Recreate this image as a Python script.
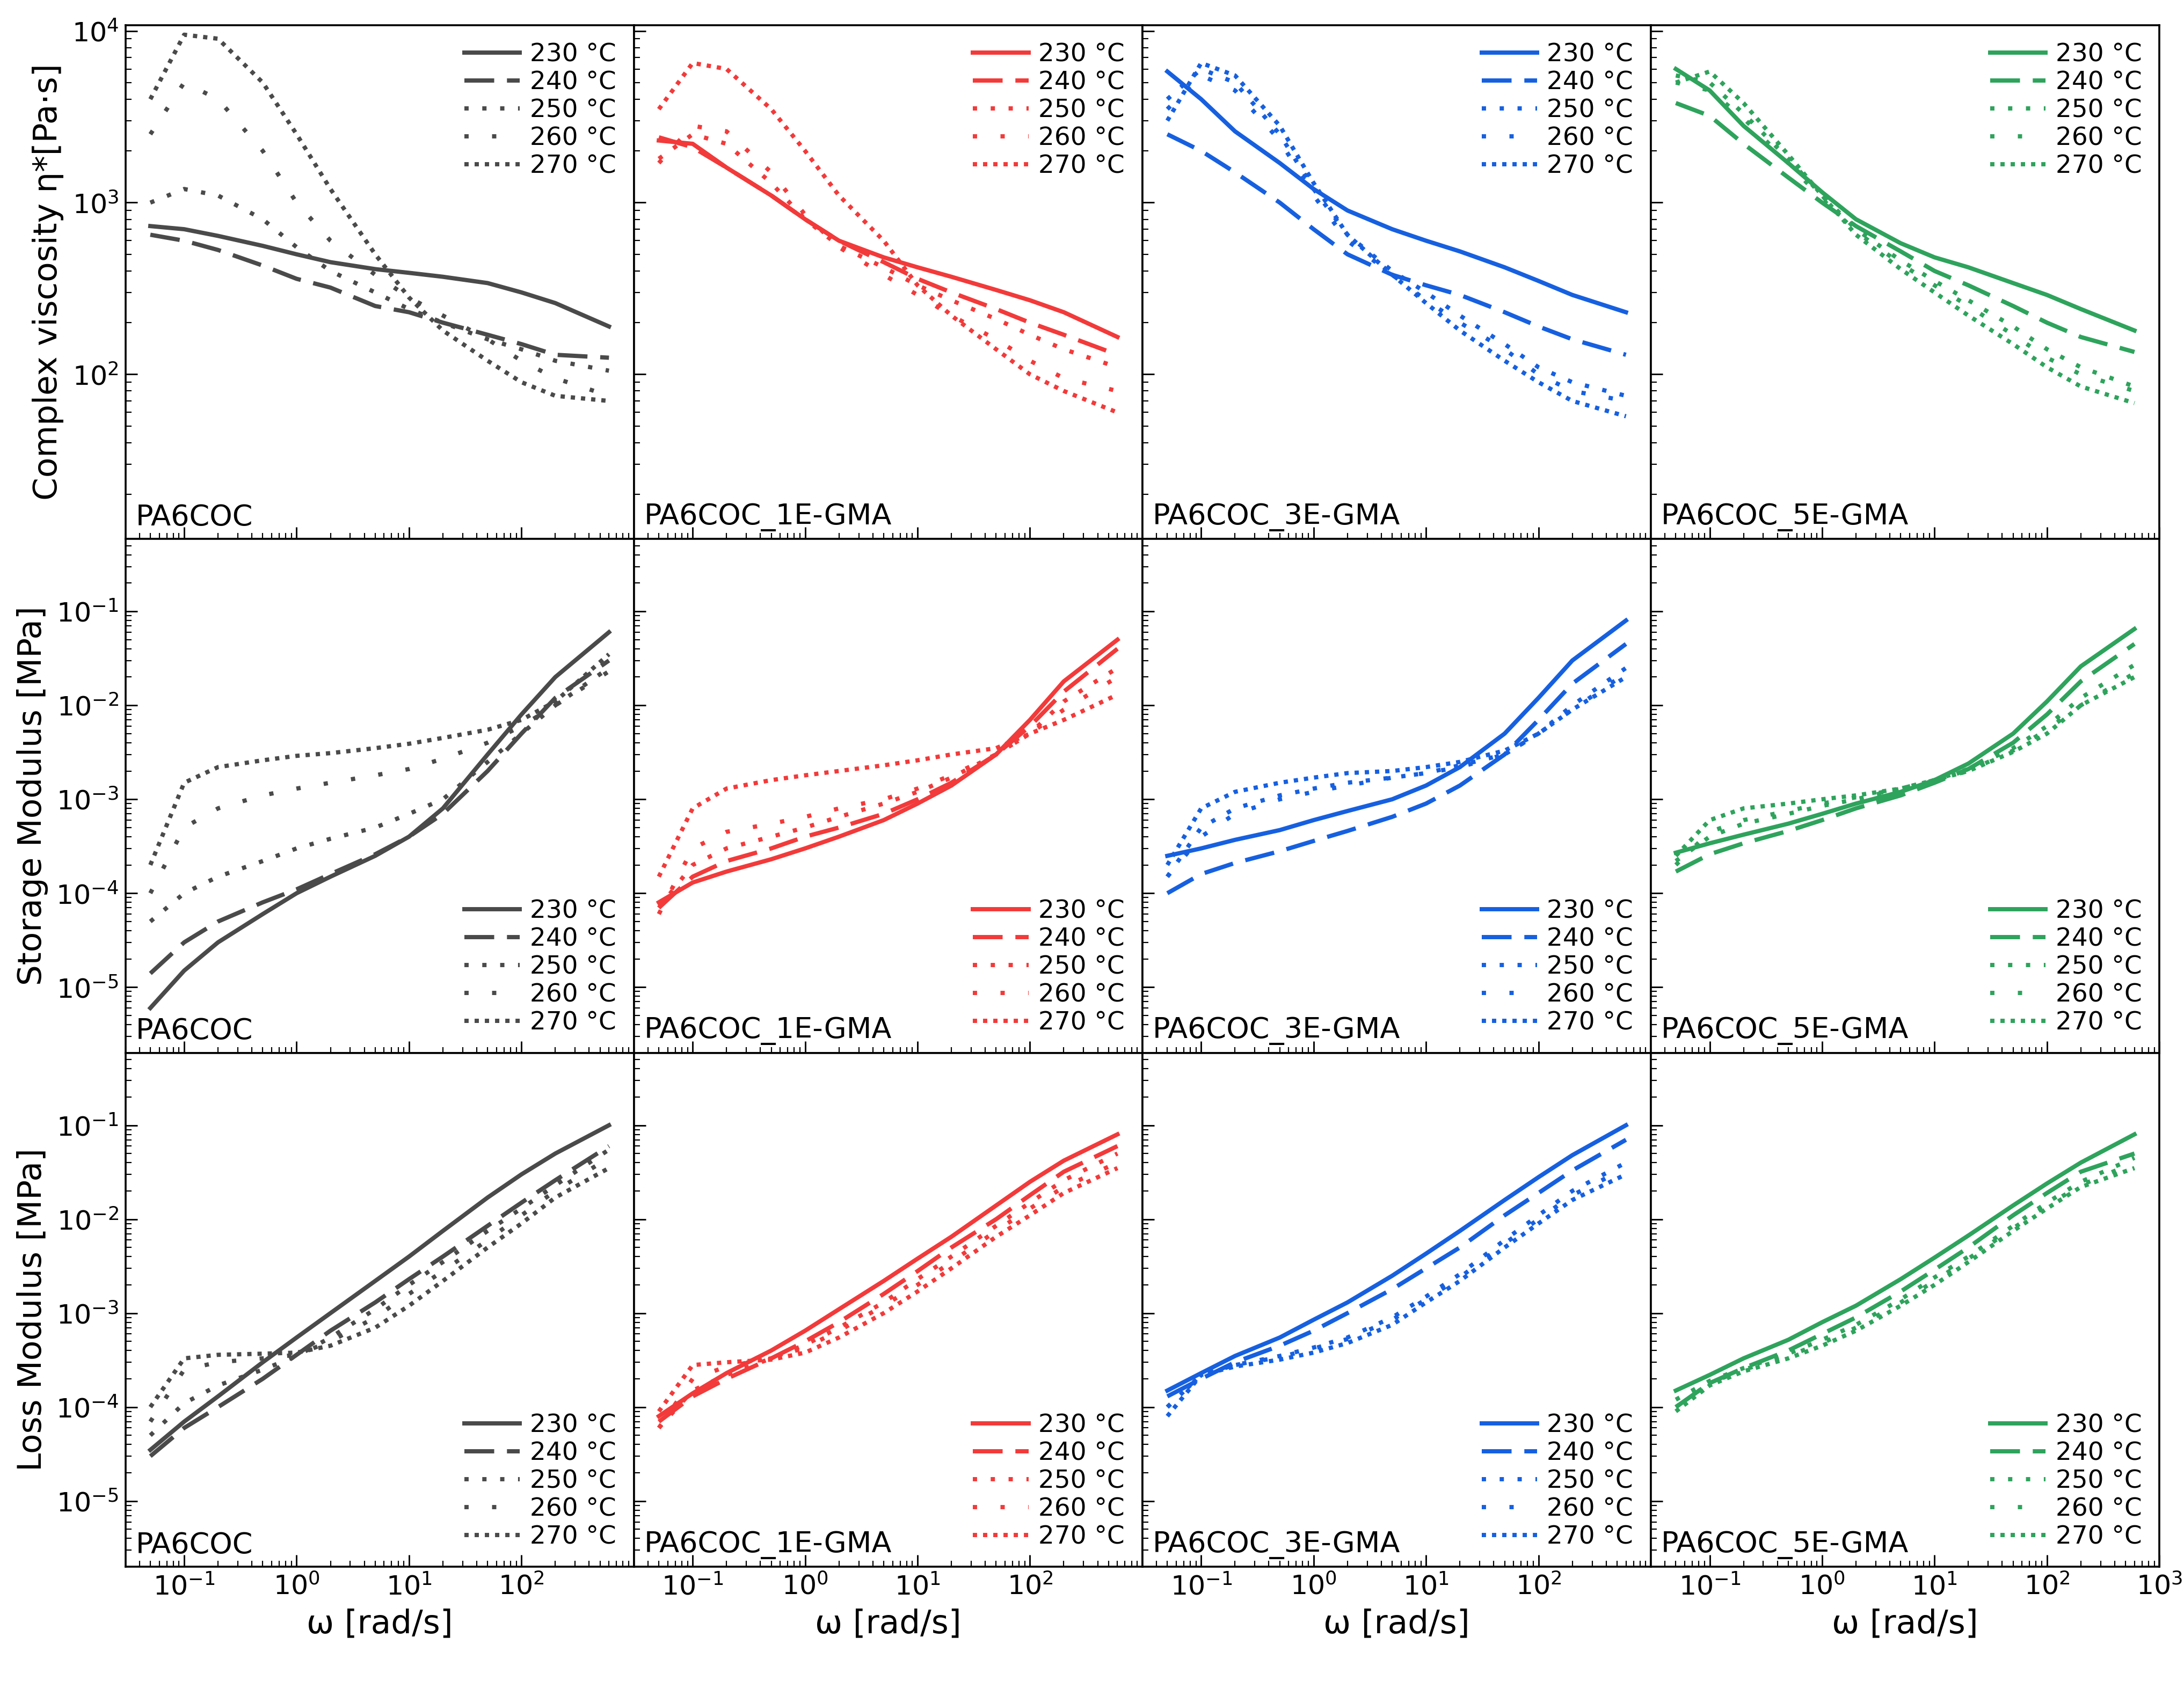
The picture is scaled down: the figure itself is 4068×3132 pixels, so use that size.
import numpy as np, pandas as pd, seaborn as sns, matplotlib
matplotlib.use("Agg")
import matplotlib.pyplot as plt
from matplotlib.ticker import LogLocator, NullFormatter

omega = [0.05,0.1,0.2,0.5,1,2,5,10,20,50,100,200,600]
temps = ["230 °C","240 °C","250 °C","260 °C","270 °C"]
samples = ["PA6COC","PA6COC_1E-GMA","PA6COC_3E-GMA","PA6COC_5E-GMA"]
colors = ["#4a4a4a","#f23a3a","#1660e0","#2ea35c"]

visc_PA6COC = [
 [730,700,640,560,500,450,410,390,370,340,300,260,190],
 [650,600,530,430,360,320,250,230,200,170,150,130,125],
 [1000,1200,1100,800,550,400,300,240,200,160,140,120,105],
 [2500,5000,4000,2000,1000,600,380,280,220,160,120,95,75],
 [4000,9500,9000,5000,2500,1200,500,280,180,120,90,75,70]]
visc_1E = [
 [2300,2200,1600,1100,800,600,480,420,370,310,270,230,165],
 [2400,2100,1600,1100,800,600,450,360,300,240,200,170,130],
 [1800,2500,2200,1300,800,560,420,330,270,210,170,140,110],
 [1700,2800,2600,1500,850,550,380,290,220,160,120,95,80],
 [3500,6500,6000,3500,2000,1100,600,330,220,140,100,80,60]]
visc_3E = [
 [5800,4000,2600,1700,1200,900,700,600,520,420,350,290,230],
 [2500,2000,1500,1000,700,500,380,330,290,230,190,160,130],
 [4000,6000,5000,2500,1200,650,400,300,220,150,110,90,75],
 [3500,5500,4500,2300,1100,600,380,270,200,140,100,80,70],
 [3000,6500,5500,2800,1300,650,380,260,180,120,90,70,57]]
visc_5E = [
 [6000,4500,2800,1700,1150,800,580,480,420,340,290,240,180],
 [3800,3200,2200,1400,1000,730,520,400,330,250,200,165,135],
 [5500,5000,3300,1800,1100,700,460,350,270,190,140,110,85],
 [5000,4500,3100,1700,1050,680,440,330,250,170,125,100,80],
 [5000,5800,3800,1900,1100,650,410,300,220,150,110,85,68]]

stor_PA6COC = [
 [6e-6,1.5e-5,3e-5,6e-5,1e-4,1.5e-4,2.5e-4,4e-4,8e-4,3e-3,8e-3,2e-2,6e-2],
 [1.4e-5,3e-5,5e-5,8e-5,1.1e-4,1.6e-4,2.6e-4,4e-4,7e-4,2e-3,5e-3,1.2e-2,3e-2],
 [5e-5,1e-4,1.5e-4,2.2e-4,3e-4,3.8e-4,5e-4,7e-4,1e-3,2.5e-3,5e-3,1e-2,2.5e-2],
 [1e-4,5e-4,8e-4,1.1e-3,1.3e-3,1.5e-3,1.8e-3,2.1e-3,2.7e-3,4e-3,6e-3,1e-2,2.3e-2],
 [2e-4,1.5e-3,2.2e-3,2.6e-3,2.9e-3,3.1e-3,3.5e-3,3.9e-3,4.5e-3,5.5e-3,7e-3,1.1e-2,3.5e-2]]
stor_1E = [
 [8e-5,1.3e-4,1.7e-4,2.3e-4,3e-4,4e-4,6e-4,9e-4,1.4e-3,3e-3,7e-3,1.8e-2,5e-2],
 [7e-5,1.5e-4,2.2e-4,3e-4,4e-4,5e-4,7e-4,1e-3,1.5e-3,3e-3,6e-3,1.4e-2,4e-2],
 [7e-5,2e-4,3e-4,4e-4,5e-4,6.5e-4,9e-4,1.2e-3,1.7e-3,3e-3,5e-3,1.1e-2,2.5e-2],
 [6e-5,3e-4,4.5e-4,5.5e-4,6.5e-4,8e-4,1e-3,1.3e-3,1.8e-3,3e-3,5e-3,9e-3,2e-2],
 [1.5e-4,8e-4,1.3e-3,1.6e-3,1.8e-3,2e-3,2.3e-3,2.6e-3,3e-3,3.5e-3,5e-3,7e-3,1.3e-2]]
stor_3E = [
 [2.5e-4,3e-4,3.7e-4,4.7e-4,6e-4,7.5e-4,1e-3,1.4e-3,2.2e-3,5e-3,1.2e-2,3e-2,8e-2],
 [1e-4,1.6e-4,2.1e-4,2.8e-4,3.6e-4,4.6e-4,6.5e-4,9e-4,1.4e-3,3e-3,7e-3,1.7e-2,4.5e-2],
 [1.5e-4,5e-4,8e-4,1.1e-3,1.3e-3,1.5e-3,1.7e-3,1.9e-3,2.3e-3,3e-3,5e-3,1e-2,2.5e-2],
 [1.5e-4,4e-4,7e-4,1e-3,1.2e-3,1.4e-3,1.7e-3,1.9e-3,2.2e-3,3e-3,5e-3,9e-3,2.2e-2],
 [2e-4,8e-4,1.2e-3,1.5e-3,1.7e-3,1.9e-3,2e-3,2.2e-3,2.5e-3,3.3e-3,5e-3,9e-3,2e-2]]
stor_5E = [
 [2.7e-4,3.4e-4,4.2e-4,5.5e-4,7e-4,9e-4,1.2e-3,1.6e-3,2.4e-3,5e-3,1.1e-2,2.6e-2,6.5e-2],
 [1.7e-4,2.6e-4,3.4e-4,4.6e-4,6e-4,8e-4,1.1e-3,1.5e-3,2.1e-3,4e-3,8e-3,1.8e-2,4.5e-2],
 [2.2e-4,4e-4,5.5e-4,7e-4,8.5e-4,1e-3,1.3e-3,1.6e-3,2.1e-3,3.5e-3,6e-3,1.2e-2,2.7e-2],
 [2e-4,4.5e-4,6e-4,7.5e-4,9e-4,1.05e-3,1.3e-3,1.6e-3,2e-3,3.3e-3,5.5e-3,1e-2,2.2e-2],
 [2.5e-4,6e-4,8e-4,9e-4,1e-3,1.1e-3,1.3e-3,1.6e-3,2e-3,3.2e-3,5e-3,1e-2,2e-2]]

loss_PA6COC = [
 [3.5e-5,7e-5,1.3e-4,3e-4,5.5e-4,1e-3,2.2e-3,4e-3,7.5e-3,1.7e-2,3e-2,5e-2,1e-1],
 [3e-5,6e-5,1e-4,2e-4,3.6e-4,6.5e-4,1.3e-3,2.3e-3,4e-3,8.5e-3,1.5e-2,2.6e-2,6e-2],
 [5e-5,1.1e-4,1.7e-4,2.5e-4,3.5e-4,5.5e-4,1.1e-3,2e-3,3.5e-3,7.5e-3,1.3e-2,2.3e-2,5.5e-2],
 [7e-5,2.5e-4,3e-4,3.3e-4,3.6e-4,5e-4,9e-4,1.6e-3,2.8e-3,6e-3,1.1e-2,2e-2,4.5e-2],
 [1e-4,3.3e-4,3.6e-4,3.7e-4,3.8e-4,4.5e-4,7e-4,1.2e-3,2.2e-3,5e-3,9e-3,1.7e-2,3.5e-2]]
loss_1E = [
 [8e-5,1.4e-4,2.3e-4,4e-4,6.5e-4,1.1e-3,2.2e-3,3.8e-3,6.5e-3,1.4e-2,2.5e-2,4.2e-2,8e-2],
 [7e-5,1.3e-4,2e-4,3.3e-4,5e-4,8e-4,1.6e-3,2.8e-3,5e-3,1e-2,1.8e-2,3.2e-2,6e-2],
 [6e-5,1.5e-4,2.2e-4,3.3e-4,4.6e-4,7e-4,1.3e-3,2.3e-3,4e-3,8.5e-3,1.5e-2,2.6e-2,5e-2],
 [6e-5,2e-4,2.7e-4,3.3e-4,4.3e-4,6.5e-4,1.2e-3,2e-3,3.5e-3,7.5e-3,1.3e-2,2.2e-2,4e-2],
 [9e-5,2.8e-4,3e-4,3.2e-4,3.8e-4,5.5e-4,1e-3,1.7e-3,3e-3,6.5e-3,1.1e-2,1.9e-2,3.5e-2]]
loss_3E = [
 [1.5e-4,2.3e-4,3.5e-4,5.5e-4,8.5e-4,1.3e-3,2.5e-3,4.3e-3,7.5e-3,1.6e-2,2.8e-2,4.8e-2,1e-1],
 [1.3e-4,2e-4,3e-4,4.5e-4,6.5e-4,1e-3,1.8e-3,3e-3,5e-3,1.1e-2,1.9e-2,3.3e-2,7e-2],
 [1e-4,2.2e-4,2.8e-4,3.5e-4,4.3e-4,5.5e-4,9e-4,1.5e-3,2.6e-3,6e-3,1.1e-2,2e-2,4e-2],
 [1e-4,2.2e-4,2.8e-4,3.4e-4,4.2e-4,5.3e-4,8.5e-4,1.4e-3,2.4e-3,5.5e-3,1e-2,1.8e-2,3.5e-2],
 [8e-5,2.2e-4,2.7e-4,3.2e-4,3.8e-4,4.8e-4,7.5e-4,1.3e-3,2.2e-3,5e-3,9e-3,1.6e-2,3e-2]]
loss_5E = [
 [1.5e-4,2.2e-4,3.3e-4,5.2e-4,8e-4,1.2e-3,2.3e-3,3.9e-3,6.7e-3,1.4e-2,2.4e-2,4e-2,8e-2],
 [1e-4,1.8e-4,2.6e-4,4e-4,6e-4,9e-4,1.7e-3,2.9e-3,5e-3,1.1e-2,1.9e-2,3.2e-2,5e-2],
 [1.2e-4,1.9e-4,2.6e-4,3.7e-4,5.2e-4,7.5e-4,1.4e-3,2.4e-3,4e-3,8.5e-3,1.5e-2,2.5e-2,4.5e-2],
 [1e-4,1.8e-4,2.5e-4,3.5e-4,4.8e-4,7e-4,1.3e-3,2.2e-3,3.8e-3,8e-3,1.4e-2,2.3e-2,4e-2],
 [9e-5,1.7e-4,2.4e-4,3.3e-4,4.5e-4,6.5e-4,1.2e-3,2e-3,3.5e-3,7.5e-3,1.3e-2,2.2e-2,3.5e-2]]

rows = [[visc_PA6COC,visc_1E,visc_3E,visc_5E],
        [stor_PA6COC,stor_1E,stor_3E,stor_5E],
        [loss_PA6COC,loss_1E,loss_3E,loss_5E]]
ylabels = ["Complex viscosity η*[Pa·s]","Storage Modulus [MPa]","Loss Modulus [MPa]"]
dashes = [(None,None),(7,3),(1,3.2),(1,5.5),(1,1.4)]

plt.rcParams["font.family"] = "DejaVu Sans"
fig, axes = plt.subplots(3,4,figsize=(15.68,12.07),dpi=259.5)
fig.subplots_adjust(left=0.0574,right=0.9885,top=0.985,bottom=0.068,wspace=0,hspace=0)

for r in range(3):
    for c in range(4):
        ax = axes[r,c]
        recs = []
        for t,vals in zip(temps,rows[r][c]):
            for w,v in zip(omega,vals):
                recs.append(dict(w=w,v=v,T=t))
        df = pd.DataFrame(recs)
        for i,t in enumerate(temps):
            sub = df[df["T"]==t]
            ls = "-" if i==0 else (0,dashes[i])
            sns.lineplot(data=sub,x="w",y="v",ax=ax,color=colors[c],lw=2.2,ls=ls,label=t,sort=False)
        ax.set_xscale("log"); ax.set_yscale("log")
        ax.set_xlim(0.03,1000)
        if r==0:
            ax.set_ylim(11,1.08e4); ax.set_yticks([1e2,1e3,1e4])
            loc="upper right"
        else:
            ax.set_ylim(2e-6,0.59); ax.set_yticks([1e-5,1e-4,1e-3,1e-2,1e-1])
            loc="lower right"
        ax.set_xticks([0.1,1,10,100,1000] if c==3 else [0.1,1,10,100])
        ax.xaxis.set_minor_locator(LogLocator(subs=np.arange(2,10)*1.0,numticks=20))
        ax.yaxis.set_minor_locator(LogLocator(subs=np.arange(2,10)*1.0,numticks=20))
        ax.xaxis.set_minor_formatter(NullFormatter()); ax.yaxis.set_minor_formatter(NullFormatter())
        ax.tick_params(which="both",direction="in",labelsize=14)
        ax.tick_params(which="major",length=6); ax.tick_params(which="minor",length=3)
        if c>0: ax.tick_params(labelleft=False)
        if r<2: ax.tick_params(labelbottom=False)
        ax.set_xlabel("ω [rad/s]" if r==2 else "",fontsize=17)
        ax.set_ylabel(ylabels[r] if c==0 else "",fontsize=17)
        ax.legend(loc=loc,frameon=False,fontsize=13,handlelength=2.2,labelspacing=0.15,
                  markerfirst=True,borderaxespad=0.3,handletextpad=0.4)
        ax.text(0.02,0.015,samples[c],transform=ax.transAxes,fontsize=15,ha="left",va="bottom")
        for s in ax.spines.values(): s.set_linewidth(1)

fig.savefig("out.png",dpi=259.5)
